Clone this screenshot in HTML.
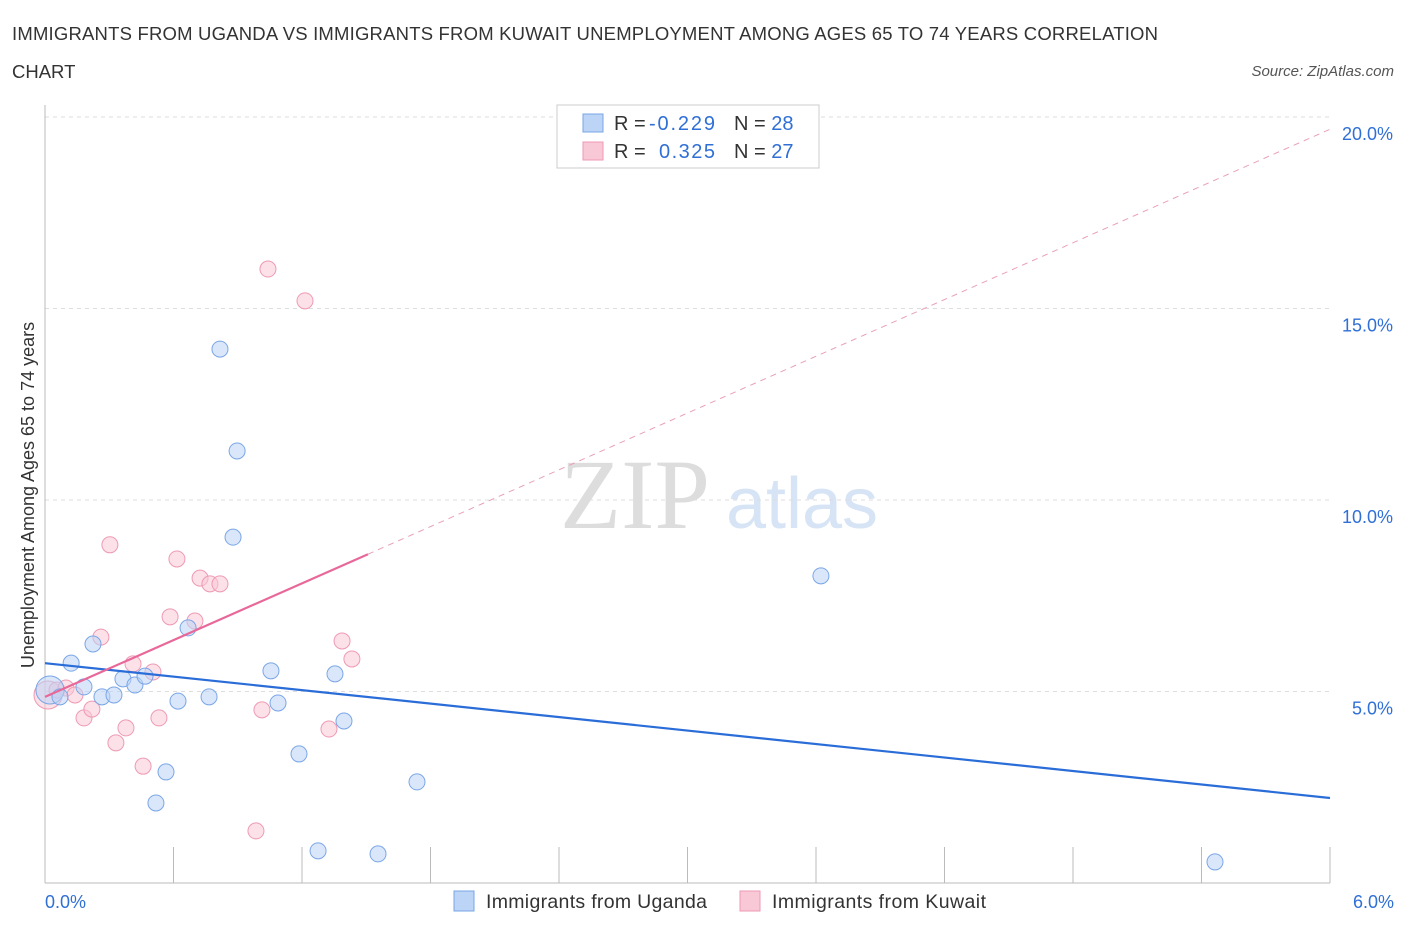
<!DOCTYPE html>
<html><head><meta charset="utf-8"><style>
body{margin:0;background:#fff;font-family:"Liberation Sans",sans-serif;}
svg text{font-family:"Liberation Sans",sans-serif;}
</style></head><body>
<svg id="c" width="1406" height="930" xmlns="http://www.w3.org/2000/svg">
<text x="12" y="40" font-size="18.5" fill="#333" textLength="1146">IMMIGRANTS FROM UGANDA VS IMMIGRANTS FROM KUWAIT UNEMPLOYMENT AMONG AGES 65 TO 74 YEARS CORRELATION</text>
<text x="12" y="78" font-size="18.5" fill="#333">CHART</text>
<text x="1394" y="76" font-size="15" fill="#555" font-style="italic" text-anchor="end">Source: ZipAtlas.com</text>
<text x="635" y="528" font-size="100" fill="#ddd" style="font-family:'Liberation Serif',serif" text-anchor="middle">ZIP</text>
<text x="802" y="528" font-size="72" fill="#d6e4f5" text-anchor="middle">atlas</text>
<text transform="translate(34,495) rotate(-90)" font-size="18" fill="#333" text-anchor="middle">Unemployment Among Ages 65 to 74 years</text>
<g id="grid"></g><g id="marks"></g>
<g>
<rect x="557" y="105" width="262" height="63" fill="#fff" stroke="#ccc"/>
<rect x="583" y="114" width="20" height="18" fill="#bcd4f5" stroke="#7aa6e6"/>
<rect x="583" y="142" width="20" height="18" fill="#f9c8d6" stroke="#ee9ab4"/>
<text x="614" y="130" font-size="20" fill="#333">R = <tspan x="649" fill="#2f6fd6" textLength="66">-0.229</tspan><tspan x="734">N = </tspan><tspan fill="#2f6fd6">28</tspan></text>
<text x="614" y="158" font-size="20" fill="#333">R = <tspan x="659" fill="#2f6fd6" textLength="56">0.325</tspan><tspan x="734">N = </tspan><tspan fill="#2f6fd6">27</tspan></text>
</g>
<g>
<rect x="454" y="891" width="20" height="20" fill="#bcd4f5" stroke="#7aa6e6"/>
<text x="486" y="908" font-size="19.5" fill="#333" textLength="221">Immigrants from Uganda</text>
<rect x="740" y="891" width="20" height="20" fill="#f9c8d6" stroke="#ee9ab4"/>
<text x="772" y="908" font-size="19.5" fill="#333" textLength="214">Immigrants from Kuwait</text>
</g>
</svg>
<script>
const yTicks=[5,10,15,20];
const yTickLabels=["5.0%","10.0%","15.0%","20.0%"];
const xTickLabels=["0.0%","6.0%"];
const ugX=[0.023,0.070,0.122,0.182,0.224,0.266,0.322,0.364,0.420,0.467,0.518,0.565,0.621,0.668,0.766,0.817,0.897,0.878,1.055,1.088,1.186,1.275,1.354,1.396,1.555,1.737,3.623,5.463];
const ugY=[5.04,4.86,5.74,5.12,6.24,4.86,4.91,5.33,5.17,5.40,2.09,2.90,4.75,6.66,4.86,13.94,11.28,9.03,5.54,4.70,3.37,0.84,5.46,4.23,0.76,2.64,8.02,0.55];
const kwX=[0.014,0.056,0.098,0.140,0.182,0.219,0.261,0.303,0.331,0.378,0.411,0.458,0.504,0.532,0.584,0.616,0.700,0.724,0.770,0.817,0.985,1.013,1.041,1.214,1.326,1.387,1.433];
const kwY=[4.91,5.04,5.09,4.91,4.31,4.54,6.42,8.83,3.66,4.05,5.72,3.05,5.51,4.31,6.95,8.46,6.84,7.96,7.81,7.81,1.36,4.52,16.03,15.20,4.02,6.32,5.85];
const ugLine=[5.74,2.22];
const kwLine=[4.86,2.47];
const kwSolidEnd=1.508;
const X=v=>45+v/6*1285, Y=v=>883-v*38.3;
const NS="http://www.w3.org/2000/svg";
const grid=document.getElementById('grid'), marks=document.getElementById('marks');
function mk(tag,attrs,parent){const e=document.createElementNS(NS,tag);for(const k in attrs)e.setAttribute(k,attrs[k]);parent.appendChild(e);return e;}
yTicks.forEach((t,i)=>{
 const g=mk('line',{x1:45,x2:1330,y1:Y(t),y2:Y(t),stroke:'#ddd','stroke-dasharray':'4 4'},grid);
 
 
 const tx=mk('text',{x:1393,y:Y(t)+23,'font-size':18,fill:'#2f6fd6','text-anchor':'end'},grid);
 tx.textContent=yTickLabels[i];
 
 
});
const ax=mk('line',{x1:45,x2:45,y1:105,y2:883,stroke:'#bbb'},grid);


const bx=mk('line',{x1:45,x2:1330,y1:883,y2:883,stroke:'#bbb'},grid);


for(let i=0;i<=10;i++){
 const t=mk('line',{x1:X(i*0.6),x2:X(i*0.6),y1:847,y2:883,stroke:'#bbb'},grid);
 
 
}
[[0,'start',45],[6,'end',1394]].forEach((d,i)=>{
 const t=mk('text',{x:d[2],y:908,'font-size':18,fill:'#2f6fd6','text-anchor':d[1]},grid);
 t.textContent=xTickLabels[i];
 
 
});
function pts(xs,ys,fill,stroke,name){
 xs.forEach((x,i)=>{
  const r=(i===0)?14:8;
  const c=mk('circle',{cx:X(x),cy:Y(ys[i]),r:r,fill:fill,'fill-opacity':0.55,stroke:stroke,'stroke-width':1},marks);
  
  
 });
}
pts(kwX,kwY,'#f9c8d6','#ee9ab4','kuwait-point');
pts(ugX,ugY,'#bcd4f5','#7aa6e6','uganda-point');
const l1=mk('line',{x1:X(0),y1:Y(ugLine[0]),x2:X(6),y2:Y(ugLine[1]),stroke:'#2a6dd8','stroke-width':2.2},marks);


const l2=mk('line',{x1:X(0),y1:Y(kwLine[0]),x2:X(kwSolidEnd),y2:Y(kwLine[0]+kwLine[1]*kwSolidEnd),stroke:'#e8689a','stroke-width':2.2},marks);


const l3=mk('line',{x1:X(kwSolidEnd),y1:Y(kwLine[0]+kwLine[1]*kwSolidEnd),x2:X(6),y2:Y(kwLine[0]+kwLine[1]*6),stroke:'#e8a0b8','stroke-width':1,'stroke-dasharray':'6 5'},marks);


</script>
</body></html>
